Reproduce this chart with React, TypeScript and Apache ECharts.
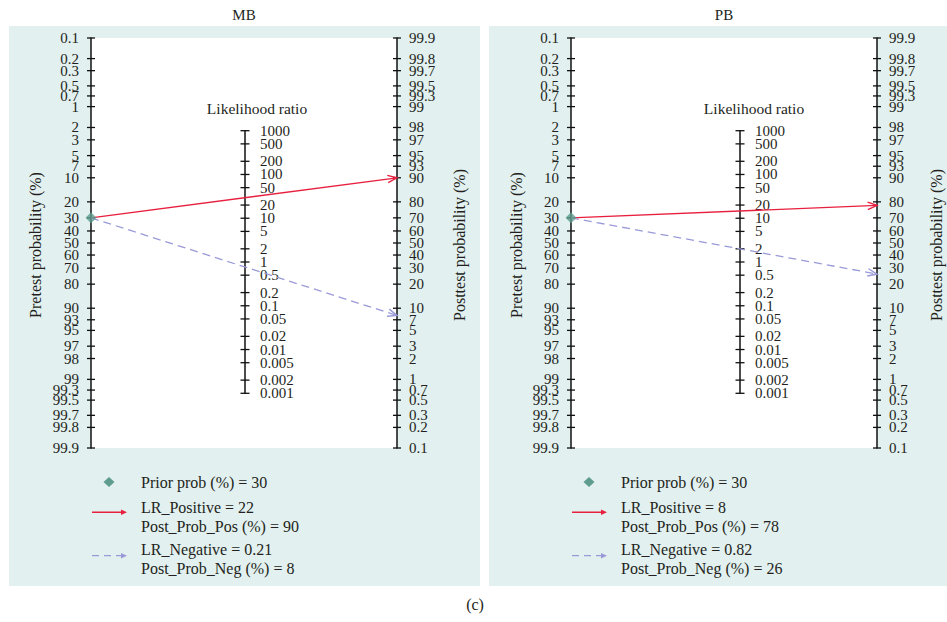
import React, { useEffect, useRef } from 'react';
import * as echarts from 'echarts';

// ---------- data ----------
const panelNames = ['MB', 'PB'];
const priorProb = [30, 30];
const lrPositive = [22, 8];
const postProbPos = [90, 78];
const lrNegative = [0.21, 0.82];
const postProbNeg = [8, 26];

const pretestTicks = [0.1, 0.2, 0.3, 0.5, 0.7, 1, 2, 3, 5, 7, 10, 20, 30, 40, 50, 60, 70, 80, 90, 93, 95, 97, 98, 99, 99.3, 99.5, 99.7, 99.8, 99.9];
const posttestTicks = [99.9, 99.8, 99.7, 99.5, 99.3, 99, 98, 97, 95, 93, 90, 80, 70, 60, 50, 40, 30, 20, 10, 7, 5, 3, 2, 1, 0.7, 0.5, 0.3, 0.2, 0.1];
const lrTicks = [1000, 500, 200, 100, 50, 20, 10, 5, 2, 1, 0.5, 0.2, 0.1, 0.05, 0.02, 0.01, 0.005, 0.002, 0.001];

// ---------- style / layout ----------
const FONT = '"Liberation Serif", "DejaVu Serif", "Times New Roman", serif';
const TEXT = '#231f20';
const AXIS = '#111111';
const BG = '#e2f0ef';
const RED = '#e8203f';
const BLUE = '#9a9ad8';
const TEAL = '#5e9c8f';

const layouts = [
  { bgX: 9, bgW: 471, left: 91, mid: 245, lrTitleX: 257, preTitleX: 35, postTitleX: 459, legX: 92 },
  { bgX: 489, bgW: 458, left: 571, mid: 740, lrTitleX: 754, preTitleX: 516, postTitleX: 936, legX: 572 },
];
const PLOT_TOP = 38;
const PLOT_H = 410;
const PLOT_W = 306;
const LR_TOP = 130.7;
const LR_H = 262.6;

const logit = (pct: number) => Math.log(pct / 100 / (1 - pct / 100));
const YMAX = -logit(0.1);

function tickSeries(xIdx: number, yIdx: number, xVal: number, values: number[], yFn: (v: number) => number, side: 'left' | 'right', half: number, gap: number) {
  const labels = values.map((v) => String(v));
  return {
    type: 'custom',
    xAxisIndex: xIdx,
    yAxisIndex: yIdx,
    clip: false,
    silent: true,
    z: 3,
    data: values.map((v) => [xVal, yFn(v)]),
    renderItem: (params: any, api: any) => {
      const p = api.coord([api.value(0), api.value(1)]);
      const lab = labels[params.dataIndex];
      return {
        type: 'group',
        children: [
          { type: 'line', shape: { x1: p[0] - half, y1: p[1], x2: p[0] + half, y2: p[1] }, style: { stroke: AXIS, lineWidth: 1.3 } },
          {
            type: 'text',
            x: side === 'left' ? p[0] - gap : p[0] + gap,
            y: p[1],
            style: {
              text: lab,
              align: side === 'left' ? 'right' : 'left',
              textAlign: side === 'left' ? 'right' : 'left',
              verticalAlign: 'middle',
              textVerticalAlign: 'middle',
              font: `15px ${FONT}`,
              fill: TEXT,
            },
          },
        ],
      };
    },
  };
}

function arrowSeries(xIdx: number, yIdx: number, pre: number, post: number, color: string, dashed: boolean) {
  return {
    type: 'custom',
    xAxisIndex: xIdx,
    yAxisIndex: yIdx,
    clip: false,
    silent: true,
    z: 4,
    data: [[0, logit(pre), 1, -logit(post)]],
    renderItem: (_params: any, api: any) => {
      const p0 = api.coord([api.value(0), api.value(1)]);
      const p1 = api.coord([api.value(2), api.value(3)]);
      const a = Math.atan2(p1[1] - p0[1], p1[0] - p0[0]);
      const L = 10;
      const th = 0.38;
      const h1 = [p1[0] - L * Math.cos(a - th), p1[1] - L * Math.sin(a - th)];
      const h2 = [p1[0] - L * Math.cos(a + th), p1[1] - L * Math.sin(a + th)];
      return {
        type: 'group',
        children: [
          { type: 'line', shape: { x1: p0[0], y1: p0[1], x2: p1[0], y2: p1[1] }, style: { stroke: color, lineWidth: 1.3, lineDash: dashed ? [8, 5] : null } },
          { type: 'polyline', shape: { points: [h1, p1, h2] }, style: { stroke: color, lineWidth: 1.4, fill: null } },
        ],
      };
    },
  };
}

function buildOption() {
  const grid: any[] = [];
  const xAxis: any[] = [];
  const yAxis: any[] = [];
  const series: any[] = [];
  const graphic: any[] = [];

  layouts.forEach((L, i) => {
    const gMain = grid.length;
    grid.push({ left: L.left, top: PLOT_TOP, width: PLOT_W, height: PLOT_H, show: true, backgroundColor: '#ffffff', borderWidth: 0 });
    const gMid = grid.length;
    grid.push({ left: L.mid, top: LR_TOP, width: 10, height: LR_H, show: false });

    const xMain = xAxis.length;
    xAxis.push({ gridIndex: gMain, type: 'value', min: 0, max: 1, show: false });
    const xMid = xAxis.length;
    xAxis.push({ gridIndex: gMid, type: 'value', min: 0, max: 1, show: false });

    const axisLine = { show: true, onZero: false, lineStyle: { color: AXIS, width: 1.5 } };
    const yL = yAxis.length;
    yAxis.push({ gridIndex: gMain, type: 'value', min: -YMAX, max: YMAX, inverse: true, position: 'left', axisLine, axisTick: { show: false }, axisLabel: { show: false }, splitLine: { show: false } });
    const yR = yAxis.length;
    yAxis.push({ gridIndex: gMain, type: 'value', min: -YMAX, max: YMAX, inverse: true, position: 'right', axisLine, axisTick: { show: false }, axisLabel: { show: false }, splitLine: { show: false } });
    const yM = yAxis.length;
    yAxis.push({ gridIndex: gMid, type: 'log', logBase: 10, min: 0.001, max: 1000, position: 'left', axisLine, axisTick: { show: false }, axisLabel: { show: false }, splitLine: { show: false } });

    series.push(tickSeries(xMain, yL, 0, pretestTicks, (v) => logit(v), 'left', 4, 12));
    series.push(tickSeries(xMain, yR, 1, posttestTicks, (v) => -logit(v), 'right', 4, 12));
    series.push(tickSeries(xMid, yM, 0, lrTicks, (v) => v, 'right', 4.5, 15));

    series.push(arrowSeries(xMain, yL, priorProb[i], postProbPos[i], RED, false));
    series.push(arrowSeries(xMain, yL, priorProb[i], postProbNeg[i], BLUE, true));

    series.push({
      type: 'scatter',
      xAxisIndex: xMain,
      yAxisIndex: yL,
      clip: false,
      silent: true,
      z: 6,
      symbol: 'diamond',
      symbolSize: [11, 11],
      itemStyle: { color: TEAL },
      data: [[0, logit(priorProb[i])]],
    });

    // panel background
    graphic.push({ type: 'rect', z: -100, silent: true, shape: { x: L.bgX, y: 26, width: L.bgW, height: 560 }, style: { fill: BG } });

    const txt = (x: number, y: number, text: string, size: number, align = 'center', rotation = 0) => ({
      type: 'text',
      x,
      y,
      rotation,
      z: 10,
      silent: true,
      style: { text, font: `${size}px ${FONT}`, fill: TEXT, align, textAlign: align, verticalAlign: 'middle', textVerticalAlign: 'middle' },
    });

    graphic.push(txt(L.left + PLOT_W / 2, 15, panelNames[i], 15));
    graphic.push(txt(L.lrTitleX, 108, 'Likelihood ratio', 15.5));
    graphic.push(txt(L.preTitleX, 245, 'Pretest probability (%)', 16, 'center', Math.PI / 2));
    graphic.push(txt(L.postTitleX, 245, 'Posttest probability (%)', 16, 'center', Math.PI / 2));

    // legend
    const lx = L.legX;
    const tx = lx + 49;
    graphic.push({ type: 'polygon', z: 10, silent: true, shape: { points: [[lx + 17, 477], [lx + 22.5, 482], [lx + 17, 487], [lx + 11.5, 482]] }, style: { fill: TEAL } });
    graphic.push(txt(tx, 482, `Prior prob (%) = ${priorProb[i]}`, 16, 'left'));

    graphic.push({ type: 'line', z: 10, silent: true, shape: { x1: lx, y1: 512.3, x2: lx + 33, y2: 512.3 }, style: { stroke: RED, lineWidth: 1.4 } });
    graphic.push({ type: 'polygon', z: 10, silent: true, shape: { points: [[lx + 35, 512.3], [lx + 29, 509.6], [lx + 29, 515]] }, style: { fill: RED } });
    graphic.push(txt(tx, 507, `LR_Positive = ${lrPositive[i]}`, 16, 'left'));
    graphic.push(txt(tx, 526, `Post_Prob_Pos (%) = ${postProbPos[i]}`, 16, 'left'));

    graphic.push({ type: 'line', z: 10, silent: true, shape: { x1: lx, y1: 555.7, x2: lx + 33, y2: 555.7 }, style: { stroke: BLUE, lineWidth: 1.3, lineDash: [7, 5] } });
    graphic.push({ type: 'polygon', z: 10, silent: true, shape: { points: [[lx + 35, 555.7], [lx + 29, 553], [lx + 29, 558.4]] }, style: { fill: BLUE } });
    graphic.push(txt(tx, 549, `LR_Negative = ${lrNegative[i]}`, 16, 'left'));
    graphic.push(txt(tx, 568, `Post_Prob_Neg (%) = ${postProbNeg[i]}`, 16, 'left'));
  });

  graphic.push({
    type: 'text',
    x: 475,
    y: 604,
    z: 10,
    silent: true,
    style: { text: '(c)', font: `16px ${FONT}`, fill: TEXT, align: 'center', textAlign: 'center', verticalAlign: 'middle', textVerticalAlign: 'middle' },
  });

  return {
    animation: false,
    backgroundColor: '#ffffff',
    grid,
    xAxis,
    yAxis,
    series,
    graphic,
  };
}

export default function App() {
  const ref = useRef<HTMLDivElement>(null);
  useEffect(() => {
    if (!ref.current) return;
    const chart = echarts.init(ref.current, undefined, { renderer: 'svg' });
    chart.setOption(buildOption() as any);
    return () => chart.dispose();
  }, []);
  return <div ref={ref} style={{ position: 'fixed', left: 0, top: 0, width: 947, height: 622 }} />;
}
